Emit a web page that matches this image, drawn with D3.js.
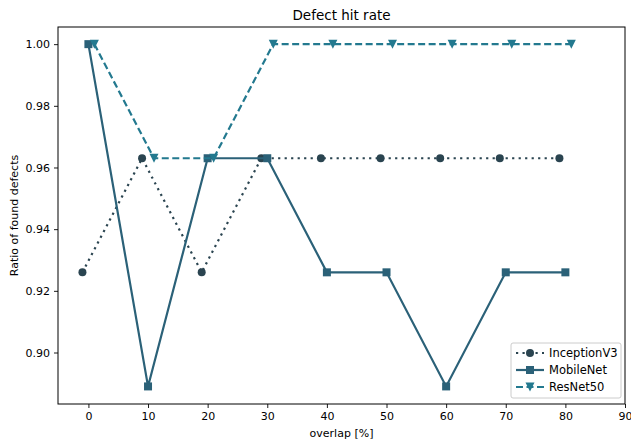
<!DOCTYPE html>
<html>
<head>
<meta charset="utf-8">
<script src="https://cdn.jsdelivr.net/npm/d3@7"></script>
<style>
  body { margin: 0; background: #fff; }
  text { font-family: "DejaVu Sans", sans-serif; fill: #000; }
</style>
</head>
<body>
<svg id="chart" width="631" height="443"></svg>
<script>
// overlap steps (%) and found-defect ratios per model
const overlaps = [0, 10, 20, 30, 40, 50, 60, 70, 80];
const inceptionV3 = [0.926, 0.963, 0.926, 0.963, 0.963, 0.963, 0.963, 0.963, 0.963];
const mobileNet = [1.0, 0.889, 0.963, 0.963, 0.926, 0.926, 0.889, 0.926, 0.926];
const resNet50 = [1.0, 0.963, 0.963, 1.0, 1.0, 1.0, 1.0, 1.0, 1.0];
const xTicks = [0, 10, 20, 30, 40, 50, 60, 70, 80, 90];
const yTicks = [0.90, 0.92, 0.94, 0.96, 0.98, 1.00];

const series = [
    {name: "InceptionV3", values: inceptionV3, shift: -1, color: "#2a4450", dash: "2.2,4.3", marker: "circle"},
    {name: "MobileNet", values: mobileNet, shift: 0, color: "#2b6178", dash: null, marker: "square"},
    {name: "ResNet50", values: resNet50, shift: 1, color: "#23798f", dash: "7,3.5", marker: "triangle"},
];

const margin = {left: 58, right: 6, top: 27, bottom: 39};
const width = 631, height = 443;
const svg = d3.select("#chart");

const x = d3.scaleLinear().domain([-5.1, 90]).range([margin.left, width - margin.right]);
const y = d3.scaleLinear().domain([0.8833, 1.00556]).range([height - margin.bottom, margin.top]);

// axes
svg.append("g")
    .attr("transform", `translate(0,${height - margin.bottom})`)
    .call(d3.axisBottom(x).tickValues(xTicks).tickSize(4).tickPadding(4).tickFormat(d3.format("d")))
    .call(g => g.select(".domain").remove())
    .call(g => g.selectAll("text").style("font-size", "11px"));

svg.append("g")
    .attr("transform", `translate(${margin.left},0)`)
    .call(d3.axisLeft(y).tickValues(yTicks).tickSize(4).tickPadding(4).tickFormat(d3.format(".2f")))
    .call(g => g.select(".domain").remove())
    .call(g => g.selectAll("text").style("font-size", "11px"));

svg.selectAll(".tick line").attr("stroke", "#000").attr("stroke-width", 0.9);

svg.append("rect")
    .attr("x", margin.left).attr("y", margin.top)
    .attr("width", width - margin.left - margin.right)
    .attr("height", height - margin.top - margin.bottom)
    .attr("fill", "none").attr("stroke", "#000").attr("stroke-width", 1);

// labels
svg.append("text")
    .attr("x", (margin.left + width - margin.right) / 2).attr("y", 20)
    .attr("text-anchor", "middle").style("font-size", "13.5px")
    .text("Defect hit rate");
svg.append("text")
    .attr("x", (margin.left + width - margin.right) / 2).attr("y", 437)
    .attr("text-anchor", "middle").style("font-size", "11px")
    .text("overlap [%]");
svg.append("text")
    .attr("transform", `translate(18,${(margin.top + height - margin.bottom) / 2}) rotate(-90)`)
    .attr("text-anchor", "middle").style("font-size", "11px")
    .text("Ratio of found defects");

function drawMarker(g, type, cx, cy, color) {
    if (type === "circle") {
        g.append("circle").attr("cx", cx).attr("cy", cy).attr("r", 4).attr("fill", color);
    } else if (type === "square") {
        g.append("rect").attr("x", cx - 4).attr("y", cy - 4).attr("width", 8).attr("height", 8).attr("fill", color);
    } else {
        g.append("path").attr("d", `M${cx - 4.5},${cy - 4.5}L${cx + 4.5},${cy - 4.5}L${cx},${cy + 4.5}Z`).attr("fill", color);
    }
}

const line = d3.line().x(d => x(d[0])).y(d => y(d[1]));
const plot = svg.append("g");
for (const s of series) {
    const pts = overlaps.map((o, i) => [o + s.shift, s.values[i]]);
    plot.append("path")
        .attr("d", line(pts))
        .attr("fill", "none")
        .attr("stroke", s.color)
        .attr("stroke-width", 2.2)
        .attr("stroke-dasharray", s.dash);
    const mg = plot.append("g");
    for (const p of pts) drawMarker(mg, s.marker, x(p[0]), y(p[1]), s.color);
}

// legend
const lg = svg.append("g").attr("transform", "translate(511,343)");
lg.append("rect").attr("width", 110).attr("height", 55).attr("rx", 2)
    .attr("fill", "#fff").attr("fill-opacity", 0.8).attr("stroke", "#ccc");
series.forEach((s, i) => {
    const yy = 10 + i * 17;
    lg.append("line").attr("x1", 5).attr("x2", 33).attr("y1", yy).attr("y2", yy)
        .attr("stroke", s.color).attr("stroke-width", 2.2).attr("stroke-dasharray", s.dash);
    drawMarker(lg, s.marker, 19, yy, s.color);
    lg.append("text").attr("x", 38).attr("y", yy + 4).style("font-size", "11.5px").text(s.name);
});
</script>
</body>
</html>
